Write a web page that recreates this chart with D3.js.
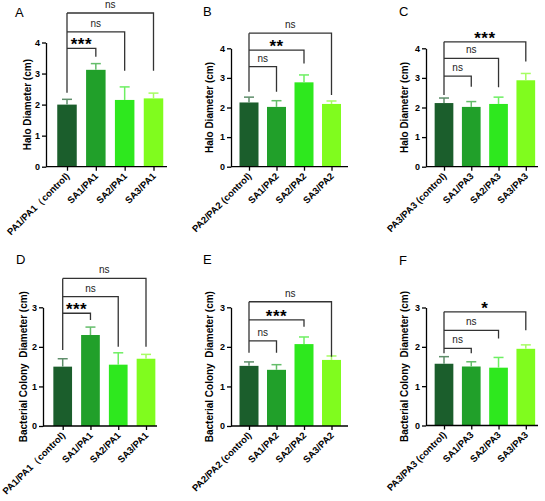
<!DOCTYPE html>
<html lang="en">
<head>
<meta charset="UTF-8">
<title>Halo and colony diameters</title>
<script src="https://cdn.jsdelivr.net/npm/d3@7"></script>
<style>
  body { margin: 0; background: #fff; }
  svg { display: block; font-family: "Liberation Sans", Arial, sans-serif; }
</style>
</head>
<body>
<script>
// categories per panel column
var cats1 = ["PA1/PA1\uFF08control)", "SA1/PA1", "SA2/PA1", "SA3/PA1"];
var cats2 = ["PA2/PA2 (control)", "SA1/PA2", "SA2/PA2", "SA3/PA2"];
var cats3 = ["PA3/PA3 (control)", "SA1/PA3", "SA2/PA3", "SA3/PA3"];

// halo diameter (cm), panels A-C
var haloMean = [[2.00, 3.12, 2.15, 2.20], [2.17, 2.02, 2.85, 2.12], [2.15, 2.02, 2.12, 2.92]];
var haloErr  = [[0.17, 0.20, 0.42, 0.17], [0.18, 0.21, 0.25, 0.10], [0.17, 0.18, 0.23, 0.23]];

// bacterial colony diameter (cm), panels D-F
var colonyMean = [[1.50, 2.30, 1.55, 1.70], [1.52, 1.42, 2.07, 1.67], [1.57, 1.50, 1.47, 1.95]];
var colonyErr  = [[0.20, 0.20, 0.30, 0.11], [0.10, 0.13, 0.18, 0.10], [0.18, 0.12, 0.26, 0.10]];

// significance brackets: control vs bar 2, 3, 4
var haloSig = [["***", "ns", "ns"], ["ns", "**", "ns"], ["ns", "ns", "***"]];
var haloBracketY = [[3.81, 4.34, 4.95], [3.38, 3.94, 4.51], [3.06, 3.66, 4.22]];
var haloBracketEnd = [[3.54, 3.09, 3.09], [2.53, 3.49, 2.42], [2.70, 2.68, 3.55]];
var haloBracketStart = [2.38, 2.53, 2.42];

var colonySig = [["***", "ns", "ns"], ["ns", "***", "ns"], ["ns", "ns", "*"]];
var colonyBracketY = [[2.85, 3.27, 3.73], [2.15, 2.68, 3.14], [1.96, 2.42, 2.89]];
var colonyBracketEnd = [[2.68, 2.00, 2.00], [1.85, 2.51, 1.75], [1.84, 2.21, 2.42]];
var colonyBracketStart = [1.92, 1.85, 1.84];

var haloTicks = [0, 1, 2, 3, 4];
var colonyTicks = [0, 1, 2, 3];

var colors = ["#1b5e2c", "#21a02a", "#2ee81e", "#80fc1e"];

var w = 545, h = 501;
var svg = d3.select("body").append("svg").attr("width", w).attr("height", h);

// layout for each panel
var panels = [
  { letter: "A", lx: 15, ly: 17, ax: 46,  ae: 167, c0: 67,  c1: 153.5, y0: 166.7, yt: 42.5, bw: 19.5, labX: 27,  cats: cats1, mean: haloMean[0], err: haloErr[0], sig: haloSig[0], by: haloBracketY[0], be: haloBracketEnd[0], bs: haloBracketStart[0], ticks: haloTicks, title: "Halo Diameter (cm)" },
  { letter: "B", lx: 203, ly: 16, ax: 231, ae: 348, c0: 249, c1: 331.5, y0: 166.7, yt: 48.3, bw: 19,   labX: 209, cats: cats2, mean: haloMean[1], err: haloErr[1], sig: haloSig[1], by: haloBracketY[1], be: haloBracketEnd[1], bs: haloBracketStart[1], ticks: haloTicks, title: "Halo Diameter (cm)" },
  { letter: "C", lx: 399, ly: 16, ax: 426, ae: 538, c0: 444, c1: 525.8, y0: 166.7, yt: 48.3, bw: 18.7, labX: 404, cats: cats3, mean: haloMean[2], err: haloErr[2], sig: haloSig[2], by: haloBracketY[2], be: haloBracketEnd[2], bs: haloBracketStart[2], ticks: haloTicks, title: "Halo Diameter (cm)" },
  { letter: "D", lx: 16,  ly: 264, ax: 43,  ae: 157, c0: 62.7, c1: 146, y0: 426, yt: 307.3, bw: 18.7, labX: 23,  cats: cats1, mean: colonyMean[0], err: colonyErr[0], sig: colonySig[0], by: colonyBracketY[0], be: colonyBracketEnd[0], bs: colonyBracketStart[0], ticks: colonyTicks, title: "Bacterial Colony  Diameter (cm)" },
  { letter: "E", lx: 203, ly: 264, ax: 231, ae: 348, c0: 249, c1: 331.5, y0: 426, yt: 307.3, bw: 19,  labX: 209, cats: cats2, mean: colonyMean[1], err: colonyErr[1], sig: colonySig[1], by: colonyBracketY[1], be: colonyBracketEnd[1], bs: colonyBracketStart[1], ticks: colonyTicks, title: "Bacterial Colony  Diameter (cm)" },
  { letter: "F", lx: 399, ly: 265, ax: 426, ae: 538, c0: 444, c1: 525.8, y0: 425.5, yt: 307.5, bw: 18.7, labX: 404, cats: cats3, mean: colonyMean[2], err: colonyErr[2], sig: colonySig[2], by: colonyBracketY[2], be: colonyBracketEnd[2], bs: colonyBracketStart[2], ticks: colonyTicks, title: "Bacterial Colony  Diameter (cm)" }
];

panels.forEach(function(p) {
  var top = p.ticks[p.ticks.length - 1];
  var y = d3.scaleLinear().domain([0, top]).range([p.y0, p.yt]);
  var x = d3.scalePoint().domain(p.cats).range([p.c0, p.c1]);
  var g = svg.append("g");

  // panel letter
  g.append("text").attr("x", p.lx).attr("y", p.ly)
    .style("font-size", "13px").text(p.letter);

  // bars
  g.selectAll("rect.bar").data(p.mean).enter().append("rect")
    .attr("x", function(d, i) { return x(p.cats[i]) - p.bw / 2; })
    .attr("y", function(d) { return y(d); })
    .attr("width", p.bw)
    .attr("height", function(d) { return p.y0 - y(d); })
    .attr("fill", function(d, i) { return colors[i]; });

  // error bars (upper only)
  p.mean.forEach(function(m, i) {
    var cx = x(p.cats[i]);
    var ec = d3.interpolateRgb(colors[i], "#ffffff")(0.3);
    g.append("line").attr("x1", cx).attr("x2", cx)
      .attr("y1", y(m)).attr("y2", y(m + p.err[i]))
      .attr("stroke", ec).attr("stroke-width", 1.5);
    g.append("line").attr("x1", cx - 5).attr("x2", cx + 5)
      .attr("y1", y(m + p.err[i])).attr("y2", y(m + p.err[i]))
      .attr("stroke", ec).attr("stroke-width", 1.5);
  });

  // y axis
  var yAxis = d3.axisLeft(y).tickValues(p.ticks).tickFormat(d3.format("d"))
    .tickSize(4).tickSizeOuter(0).tickPadding(2);
  var ya = g.append("g").attr("transform", "translate(" + p.ax + ",0)").call(yAxis);
  ya.select(".domain").attr("stroke-width", 1.3);
  ya.selectAll(".tick line").attr("stroke-width", 1.3);
  ya.selectAll(".tick text").style("font-size", "9px").style("font-weight", "bold")
    .style("font-family", "Liberation Sans, Arial, sans-serif");

  // x axis
  g.append("line").attr("x1", p.ax).attr("x2", p.ae)
    .attr("y1", p.y0).attr("y2", p.y0)
    .attr("stroke", "#000").attr("stroke-width", 1.3);
  var xAxis = d3.axisBottom(x).tickSize(4).tickSizeOuter(0).tickFormat("");
  var xa = g.append("g").attr("transform", "translate(0," + p.y0 + ")").call(xAxis);
  xa.select(".domain").remove();
  xa.selectAll(".tick line").attr("stroke-width", 1.3);

  g.selectAll("text.xlab").data(p.cats).enter().append("text")
    .attr("class", "xlab")
    .attr("transform", function(d) {
      return "translate(" + (x(d) + 3) + "," + (p.y0 + 10) + ") rotate(-45)";
    })
    .attr("text-anchor", "end")
    .style("font-size", "9.5px").style("font-weight", "bold")
    .text(function(d) { return d; });

  // y axis title
  g.append("text")
    .attr("transform", "translate(" + p.labX + "," + ((p.y0 + p.yt) / 2) + ") rotate(-90)")
    .attr("text-anchor", "middle")
    .attr("dy", "0.35em")
    .style("font-size", "10px").style("font-weight", "bold")
    .style("white-space", "pre")
    .text(p.title);

  // significance brackets
  var x0 = x(p.cats[0]);
  var legTop = d3.max(p.by);
  g.append("line").attr("x1", x0).attr("x2", x0)
    .attr("y1", y(legTop)).attr("y2", y(p.bs))
    .attr("stroke", "#333").attr("stroke-width", 1.3);
  p.sig.forEach(function(s, k) {
    var x1 = x(p.cats[k + 1]);
    var yl = y(p.by[k]);
    g.append("path")
      .attr("d", "M" + x0 + "," + yl + "H" + x1 + "V" + y(p.be[k]))
      .attr("fill", "none").attr("stroke", "#333").attr("stroke-width", 1.3);
    var t = g.append("text").attr("x", (x0 + x1) / 2).attr("text-anchor", "middle").text(s);
    if (s === "ns") {
      t.attr("y", yl - 5).style("font-size", "10px").style("fill", "#222");
    } else {
      t.attr("y", yl + 2).style("font-size", "17px").style("font-weight", "bold")
        .style("letter-spacing", "0.5px");
    }
  });
});
</script>
</body>
</html>
